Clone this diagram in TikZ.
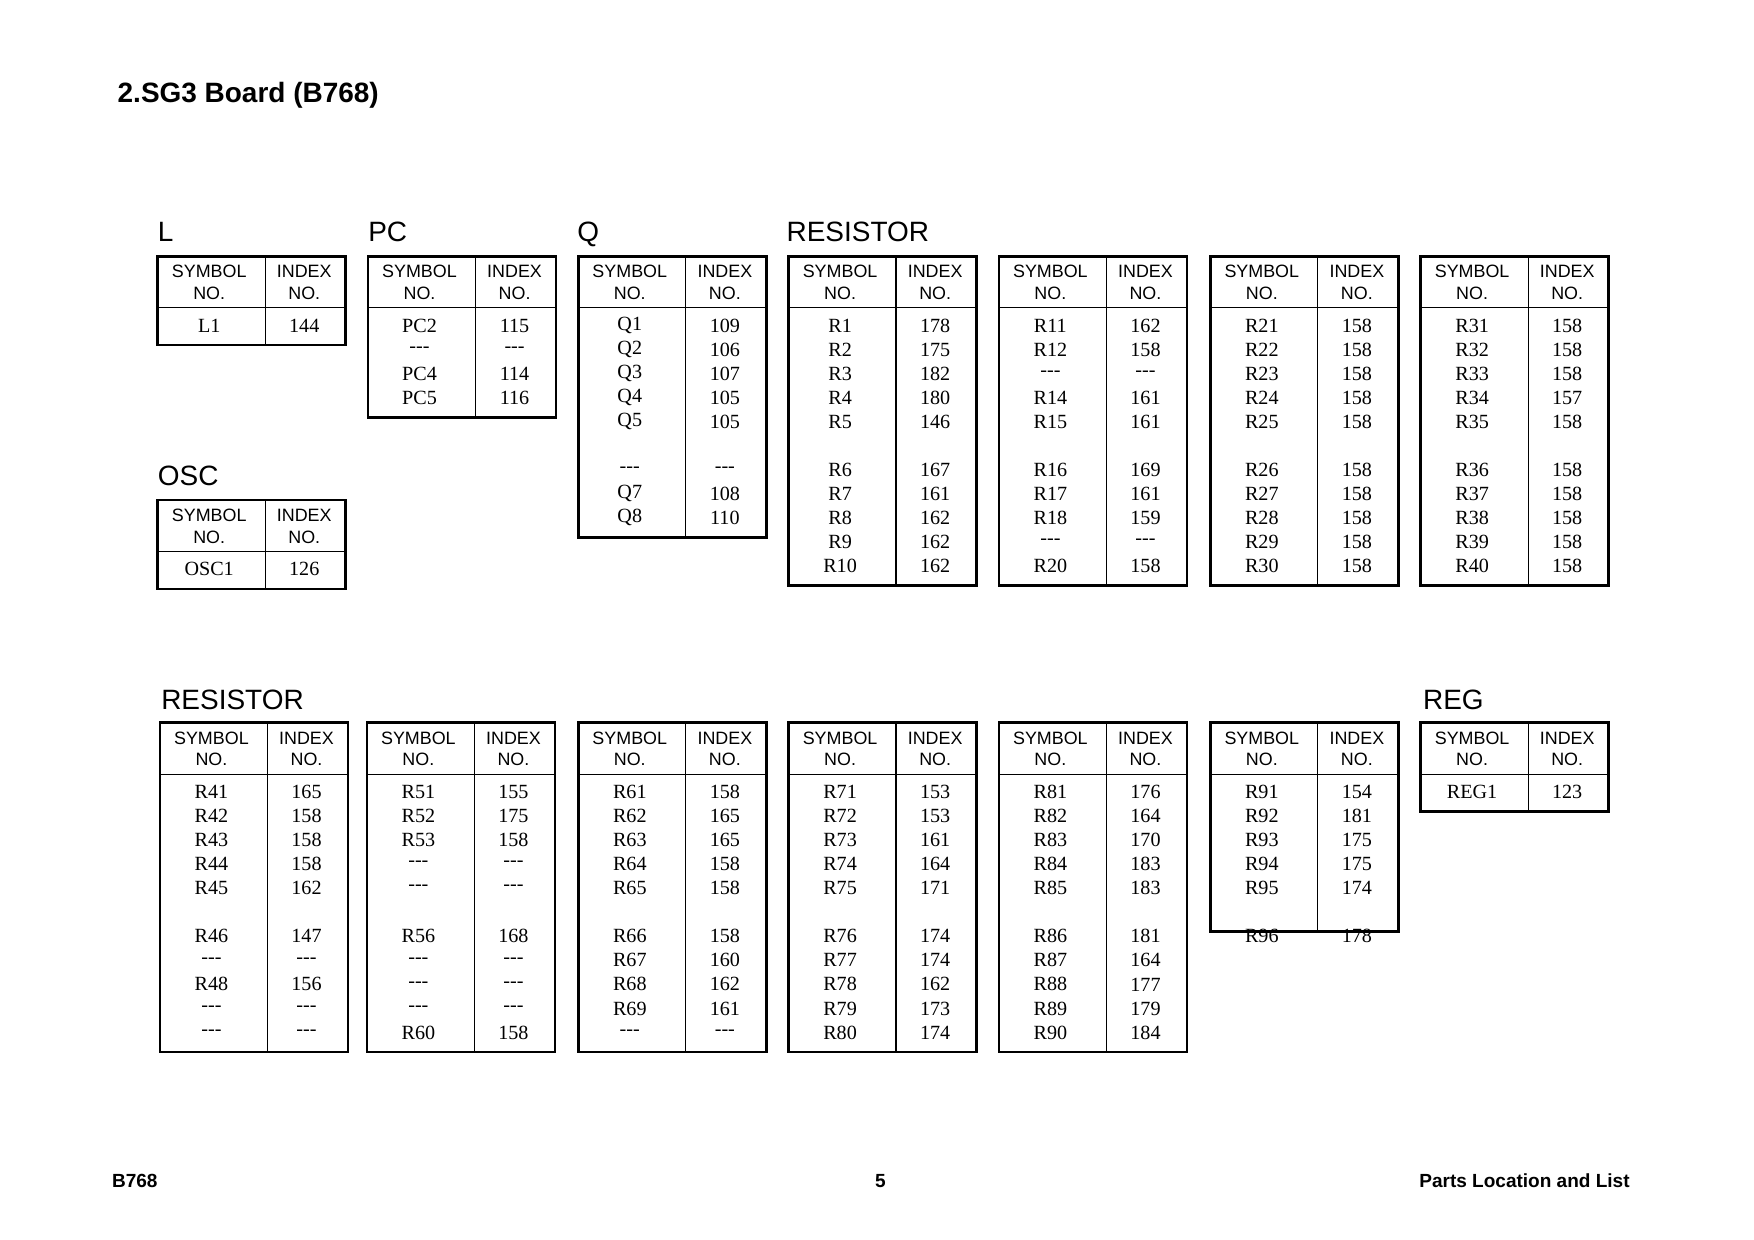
\documentclass[tikz,border=0pt]{standalone}
\usepackage{fontspec}
\setmainfont{Liberation Serif}
\newfontfamily\hsf{Liberation Sans}
\def\D{{-}{-}{-}}
\def\B{\phantom{0}}
\tikzset{
 frame/.style={line width=2.4pt},
 rule/.style={line width=1pt},
 hd/.style={font=\hsf\fontsize{16}{16}\selectfont,inner sep=0pt},
 dt/.style={font=\fontsize{18}{18}\selectfont,inner sep=0pt},
 sec/.style={font=\hsf\fontsize{25}{25}\selectfont,anchor=base west,inner sep=0pt},
 ft/.style={font=\hsf\bfseries\fontsize{17}{17}\selectfont,anchor=base,inner sep=0pt}
}
\newcommand\tbl[4]{%
 \draw[rule] (#1+96,#2) -- (#1+96,{#2+58+21.5*#3});
 \draw[rule] (#1,#2+46) -- (#1+168,#2+46);
 \draw[frame] (#1,#2) rectangle (#1+168,{#2+58+21.5*#3});
 \node[hd] at (#1+46,#2+14) {SYMBOL};
 \node[hd] at (#1+46,#2+33) {NO.};
 \node[hd] at (#1+131,#2+14) {INDEX};
 \node[hd] at (#1+131,#2+33) {NO.};
 \foreach \s/\v [count=\i] in {#4} {
   \node[dt] at (#1+46,{#2+62+21.5*(\i-1)}) {\s};
   \node[dt] at (#1+131,{#2+62+21.5*(\i-1)}) {\v};
 }}
\begin{document}
\begin{tikzpicture}[x=1pt,y=-1pt]
\useasboundingbox (0,0) rectangle (1568,1108);
\node[font=\hsf\bfseries\fontsize{25}{25}\selectfont,anchor=base west,inner sep=0pt] (title) at (105,92) {2.SG3 Board (B768)};
\node[sec] (sL) at (141,216) {L};
\node[sec] (sPC) at (329,216) {PC};
\node[sec] (sQ) at (516,216) {Q};
\node[sec] (sR1) at (703,216) {RESISTOR};
\node[sec] (sO) at (141,434) {OSC};
\node[sec] (sR2) at (144,634) {RESISTOR};
\node[sec] (sREG) at (1272,634) {REG};
\tbl{141}{229}{1}{L1/144}
\tbl{141}{447}{1}{OSC1/126}
\tbl{329}{229}{4}{PC2/115,\D/\D,PC4/114,PC5/116}
\tbl{517}{229}{9}{Q1/109,Q2/106,Q3/107,Q4/105,Q5/105,\B/\B,\D/\D,Q7/108,Q8/110}
\tbl{705}{229}{11}{R1/178,R2/175,R3/182,R4/180,R5/146,\B/\B,R6/167,R7/161,R8/162,R9/162,R10/162}
\tbl{893}{229}{11}{R11/162,R12/158,\D/\D,R14/161,R15/161,\B/\B,R16/169,R17/161,R18/159,\D/\D,R20/158}
\tbl{1082}{229}{11}{R21/158,R22/158,R23/158,R24/158,R25/158,\B/\B,R26/158,R27/158,R28/158,R29/158,R30/158}
\tbl{1270}{229}{11}{R31/158,R32/158,R33/158,R34/157,R35/158,\B/\B,R36/158,R37/158,R38/158,R39/158,R40/158}
\tbl{143}{646}{11}{R41/165,R42/158,R43/158,R44/158,R45/162,\B/\B,R46/147,\D/\D,R48/156,\D/\D,\D/\D}
\tbl{328}{646}{11}{R51/155,R52/175,R53/158,\D/\D,\D/\D,\B/\B,R56/168,\D/\D,\D/\D,\D/\D,R60/158}
\tbl{517}{646}{11}{R61/158,R62/165,R63/165,R64/158,R65/158,\B/\B,R66/158,R67/160,R68/162,R69/161,\D/\D}
\tbl{705}{646}{11}{R71/153,R72/153,R73/161,R74/164,R75/171,\B/\B,R76/174,R77/174,R78/162,R79/173,R80/174}
\tbl{893}{646}{11}{R81/176,R82/164,R83/170,R84/183,R85/183,\B/\B,R86/181,R87/164,R88/177,R89/179,R90/184}
\tbl{1082}{646}{6}{R91/154,R92/181,R93/175,R94/175,R95/174,\B/\B,R96/178}
\tbl{1270}{646}{1}{REG1/123}
\node[ft,anchor=base west] (f1) at (100,1062) {B768};
\node[ft] (f2) at (787,1062) {5};
\node[ft,anchor=base east] (f3) at (1457,1062) {Parts Location and List};
\end{tikzpicture}
\end{document}
